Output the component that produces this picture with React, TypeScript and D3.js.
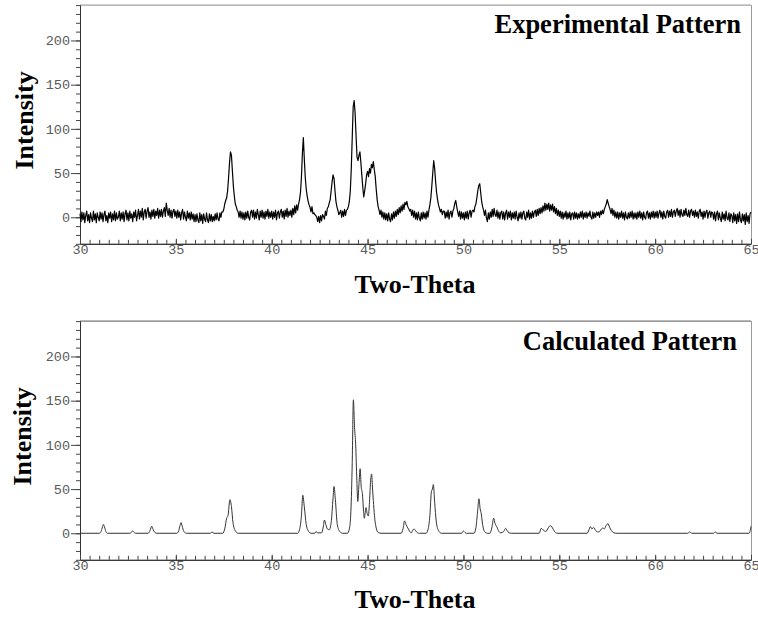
import React, { useEffect, useRef } from 'react';
import * as d3 from 'd3';

// x axis (two-theta, degrees)
const thetaDomain: [number, number] = [30, 65];
const thetaTicks = [30, 35, 40, 45, 50, 55, 60, 65];
// y axis (intensity)
const intensityDomain: [number, number] = [-30, 240];
const intensityTicks = [0, 50, 100, 150, 200];

// experimental scan, sampled every 0.05 deg from 30 to 65 (one row per degree)
const expStart = 30;
const expStep = 0.05;
const expIntensity = [
  4, -5, 6, -3, 5, -6, 2, 7, -4, 3, -6, 5, -1, -5, 7, -3, 4, -6, 5, 0, // 30
  -4, 6, -2, 5, -5, 3, 7, -4, 2, -6, 5, -1, 6, -5, 4, -3, 7, -4, 5, -2, // 31
  0, 7, -4, 5, -2, 6, -5, 4, 8, -3, 5, -4, 7, -1, 4, -5, 6, 0, 8, -4, // 32
  2, 9, -2, 7, 0, 10, -3, 6, 9, -1, 7, 11, 0, 6, -2, 8, 1, 9, -1, 7, // 33
  2, 10, -1, 8, 1, 9, 0, 7, 11, 1, 16, 8, 2, 10, 0, 8, -1, 7, 9, 1, // 34
  7, -1, 8, 0, 6, -3, 5, 9, -2, 6, 0, -4, 7, -1, 5, -3, 6, -2, 4, -5, // 35
  3, -5, 4, -3, -6, 5, -4, 3, -7, 4, -2, -5, 5, -3, -6, 4, -4, 3, -5, 1, // 36
  -4, 4, -3, 5, -2, -4, 5, 0, 6, 6, 9, 15, 19, 22, 30, 45, 62, 74, 70, 52, // 37
  35, 24, 15, 12, 8, 6, 0, 7, -1, 6, -2, 5, -3, 6, -1, 7, 0, -3, 6, 8, // 38
  0, 8, -2, 6, -1, 9, 3, -3, 7, 0, 8, -1, 6, -2, 7, 1, 9, -1, 6, 0, // 39
  7, -2, 6, 0, 8, -3, 5, 7, -1, 6, 9, 0, 7, -2, 8, 1, 10, 0, 7, 2, // 40
  8, 0, 10, 3, 13, 5, 14, 8, 15, 20, 28, 45, 72, 90, 66, 45, 32, 24, 18, 14, // 41
  11, 6, 12, 4, 5, 3, 2, 0, -5, 1, -6, 2, -4, 3, 1, -2, 7, 2, 10, 12, // 42
  16, 20, 30, 40, 48, 44, 30, 18, 12, 8, 3, 5, 8, 0, 7, 1, 9, 2, 8, 9, // 43
  12, 18, 30, 55, 90, 125, 132, 118, 92, 68, 64, 70, 74, 62, 48, 34, 23, 30, 38, 48, // 44
  52, 46, 55, 50, 60, 56, 63, 54, 46, 32, 20, 12, 8, 3, 8, 0, 6, -2, 5, -3, // 45
  4, -4, 5, -2, -5, 4, -3, 6, -1, 7, 1, 9, 3, 11, 5, 13, 7, 15, 9, 17, // 46
  14, 18, 12, 10, 7, 9, 2, 8, 0, 7, -2, 5, -3, 6, -1, -4, 5, -2, 6, -1, // 47
  5, -2, 7, 0, 8, 14, 22, 35, 50, 64, 55, 40, 28, 20, 14, 10, 6, 9, 3, 7, // 48
  7, -1, 6, 0, 8, -2, 5, 7, 0, 7, 10, 16, 19, 12, 6, 1, 7, -2, 6, -1, // 49
  5, -3, 6, -1, 7, -2, 5, 8, 0, 7, 8, 6, 12, 15, 22, 30, 36, 38, 28, 18, // 50
  12, 8, 2, 8, -1, -5, 5, -2, 6, 0, 9, 1, 10, 3, 1, 8, -1, 6, -2, 5, // 51
  7, -2, 6, -3, 5, 8, -2, 6, 0, 7, -3, 5, -1, 6, -2, 7, 0, -4, 5, -1, // 52
  6, -2, 5, 7, -1, -3, 6, 0, 8, -2, 5, -1, 7, 0, 6, 8, 1, 9, 2, 10, // 53
  4, 11, 5, 13, 7, 16, 8, 15, 9, 16, 7, 14, 8, 15, 6, 12, 4, 10, 2, 8, // 54
  1, 7, -1, 6, -2, 5, 0, 7, -2, 5, -1, 6, -3, 4, 5, -2, 6, -1, 5, -2, // 55
  4, -1, 6, 0, 7, -2, 5, 0, 6, -1, 5, 1, 7, 0, -2, 6, -1, 5, 0, 6, // 56
  2, 6, 0, 7, 3, 8, 4, 9, 12, 15, 20, 16, 12, 9, 4, 10, 2, 8, 0, 6, // 57
  -1, 6, -2, 5, 0, 7, -1, 5, -3, 6, 0, -2, 5, -1, 6, 0, 7, -2, 5, -1, // 58
  5, -2, 6, 0, 7, -1, 5, -3, 6, 0, -2, 5, 7, -1, 5, -2, 6, 0, 7, -1, // 59
  6, 0, 7, -1, 5, 8, 0, 6, -2, 7, 1, -1, 6, 8, 0, 7, 1, 9, 0, 6, // 60
  8, 1, 7, 10, 2, 8, 0, 9, 3, 1, 8, 2, 10, 3, 1, 8, 0, 7, 9, 2, // 61
  7, 0, 8, 1, 6, -1, 7, 9, 1, 6, -2, 7, 0, 6, 8, -1, 5, 7, 0, 6, // 62
  5, -2, 6, -4, 4, 7, -3, 5, -1, -5, 6, -2, 4, -4, 7, -1, -3, 5, -5, 4, // 63
  2, -6, 5, -4, 3, -7, 4, -5, 6, -3, -6, 4, -4, 3, -8, 5, -5, 2, -7, 4, // 64
  6, // 65
];

// calculated pattern, [two-theta, intensity]
const calcPattern: [number, number][] = [
  [30, 0],
  [31.0, 0], [31.1, 2], [31.17, 7], [31.22, 10], [31.28, 7], [31.35, 2], [31.45, 0],
  [32.6, 0], [32.7, 1.5], [32.75, 2.6], [32.8, 1.5], [32.9, 0],
  [33.55, 0], [33.65, 3], [33.74, 8], [33.82, 4], [33.9, 1], [34.0, 0],
  [35.05, 0], [35.15, 3], [35.22, 9], [35.27, 12], [35.33, 8], [35.42, 2], [35.55, 0],
  [36.8, 0], [36.89, 1.5], [36.98, 0],
  [37.45, 0], [37.55, 5], [37.65, 17], [37.72, 20], [37.82, 38], [37.9, 30], [37.98, 12], [38.1, 3], [38.25, 0],
  [41.35, 0], [41.45, 4], [41.55, 20], [41.62, 43], [41.7, 30], [41.8, 10], [41.9, 3], [42.05, 0],
  [42.25, 0], [42.31, 2], [42.4, 0.5], [42.6, 0.5], [42.68, 6], [42.75, 15], [42.82, 10], [42.9, 5],
  [43.0, 4], [43.1, 12], [43.2, 40], [43.25, 53], [43.32, 38], [43.42, 10], [43.55, 2], [43.7, 0],
  [43.95, 0], [44.05, 5], [44.13, 25], [44.2, 80], [44.26, 151], [44.32, 120], [44.38, 100], [44.44, 60],
  [44.49, 36], [44.55, 55], [44.61, 73], [44.67, 52], [44.73, 45], [44.79, 25], [44.83, 17], [44.88, 24],
  [44.92, 29], [44.98, 22], [45.04, 19.6], [45.1, 35], [45.16, 60], [45.21, 67], [45.26, 50], [45.3, 37],
  [45.36, 20], [45.45, 6], [45.55, 1], [45.7, 0],
  [46.75, 0], [46.85, 5], [46.93, 14], [47.0, 10], [47.1, 6], [47.2, 2], [47.28, 0.5], [47.35, 3],
  [47.42, 5], [47.5, 3], [47.6, 0.5], [47.7, 0],
  [48.05, 0], [48.15, 4], [48.25, 20], [48.33, 47], [48.38, 50], [48.43, 55], [48.5, 35], [48.58, 14],
  [48.7, 3], [48.85, 0],
  [49.9, 0], [50.0, 2.5], [50.08, 1], [50.15, 0],
  [50.55, 0], [50.65, 6], [50.74, 25], [50.81, 39], [50.87, 28], [50.93, 22], [51.0, 10], [51.1, 2], [51.25, 0],
  [51.38, 0], [51.48, 6], [51.58, 17], [51.65, 11], [51.75, 7], [51.85, 2], [51.95, 0.5], [52.1, 2],
  [52.2, 5.6], [52.28, 3], [52.38, 0.5], [52.5, 0],
  [53.95, 0], [54.06, 5.6], [54.15, 4], [54.3, 2], [54.42, 6], [54.53, 8.6], [54.62, 7], [54.75, 2], [54.88, 0],
  [56.45, 0], [56.55, 4], [56.62, 7.5], [56.7, 5], [56.8, 6.5], [56.9, 3], [57.0, 1.5], [57.1, 2],
  [57.2, 5], [57.28, 6], [57.35, 5], [57.45, 9], [57.54, 11], [57.62, 7], [57.72, 3], [57.85, 0.5], [58.0, 0],
  [61.7, 0], [61.8, 1.5], [61.9, 0],
  [63.05, 0], [63.14, 1.5], [63.23, 0],
  [64.9, 0], [64.95, 2], [65.0, 8],
];

const App = () => {
  const svgRef = useRef<SVGSVGElement>(null);

  useEffect(() => {
    const svg = d3.select(svgRef.current);
    svg.selectAll('*').remove();

    const left = 80;
    const right = 751;
    const x = d3.scaleLinear().domain(thetaDomain).range([left, right]);

    const expPoints: [number, number][] = expIntensity.map((v, i) => [expStart + i * expStep, v]);

    const drawPanel = (opts: any) => {
      const { top, bottom, points, curve, stroke, strokeWidth, title, titleX, titleY, xTitleY, yTitleX, topStroke } = opts;
      const y = d3.scaleLinear().domain(intensityDomain).range([bottom, top]);
      const g = svg.append('g');

      // frame: top and right edges
      g.append('line')
        .attr('x1', left).attr('x2', right)
        .attr('y1', top).attr('y2', top)
        .attr('stroke', topStroke).attr('stroke-width', 1);
      g.append('line')
        .attr('x1', right + 0.5).attr('x2', right + 0.5)
        .attr('y1', top).attr('y2', bottom)
        .attr('stroke', '#9a9a9a').attr('stroke-width', 1);

      // y axis: minor ticks every 10, labelled ticks every 50
      g.append('g')
        .attr('transform', `translate(${left},0)`)
        .call(d3.axisLeft(y).tickValues(d3.range(-30, 241, 10)).tickSize(4).tickSizeOuter(0).tickFormat(() => ''));
      g.append('g')
        .attr('transform', `translate(${left},0)`)
        .call(d3.axisLeft(y).tickValues(intensityTicks).tickSize(9).tickPadding(1).tickSizeOuter(0));

      // x axis: ticks point up into the plot
      g.append('g')
        .attr('transform', `translate(0,${bottom})`)
        .call(d3.axisBottom(x).tickValues(d3.range(30, 65.01, 0.5)).tickSize(-4).tickSizeOuter(0).tickFormat(() => ''));
      g.append('g')
        .attr('transform', `translate(0,${bottom})`)
        .call(d3.axisBottom(x).tickValues(thetaTicks).tickSize(-5).tickPadding(1).tickSizeOuter(0).tickFormat(d3.format('d')));

      g.selectAll('.domain').attr('stroke', '#333');
      g.selectAll('.tick line').attr('stroke', '#444');
      g.selectAll('.tick text')
        .attr('fill', '#5a5a5a')
        .style('font-family', '"Liberation Mono", "DejaVu Sans Mono", monospace')
        .style('font-size', '13.5px');

      // pattern
      const line = d3.line<[number, number]>()
        .x(d => x(d[0]))
        .y(d => y(d[1]))
        .curve(curve);
      g.append('path')
        .datum(points)
        .attr('d', line)
        .attr('fill', 'none')
        .attr('stroke', stroke)
        .attr('stroke-width', strokeWidth)
        .attr('stroke-linejoin', 'round');

      const serif = '"Liberation Serif", "Times New Roman", serif';
      g.append('text')
        .attr('x', titleX).attr('y', titleY)
        .attr('text-anchor', 'end')
        .style('font-family', serif).style('font-weight', 'bold').style('font-size', '26.5px')
        .text(title);
      g.append('text')
        .attr('x', 415).attr('y', xTitleY)
        .attr('text-anchor', 'middle')
        .style('font-family', serif).style('font-weight', 'bold').style('font-size', '26px')
        .text('Two-Theta');
      g.append('text')
        .attr('transform', `translate(${yTitleX},${(top + bottom) / 2 - 4}) rotate(-90)`)
        .attr('text-anchor', 'middle')
        .style('font-family', serif).style('font-weight', 'bold').style('font-size', '26px')
        .text('Intensity');
    };

    drawPanel({
      top: 5.1, bottom: 243.8, points: expPoints, curve: d3.curveLinear, stroke: '#000', strokeWidth: 1.2,
      title: 'Experimental Pattern', titleX: 741, titleY: 33, xTitleY: 293, yTitleX: 33, topStroke: '#8a8a8a',
    });
    drawPanel({
      top: 321.1, bottom: 559.8, points: calcPattern, curve: d3.curveMonotoneX, stroke: '#333', strokeWidth: 1,
      title: 'Calculated Pattern', titleX: 737, titleY: 350, xTitleY: 608, yTitleX: 31, topStroke: '#555',
    });

    return () => {
      svg.selectAll('*').remove();
    };
  }, []);

  return (
    <svg
      ref={svgRef}
      width={758}
      height={617}
      style={{ position: 'absolute', left: 0, top: 0, background: '#fff' }}
    />
  );
};

export default App;
